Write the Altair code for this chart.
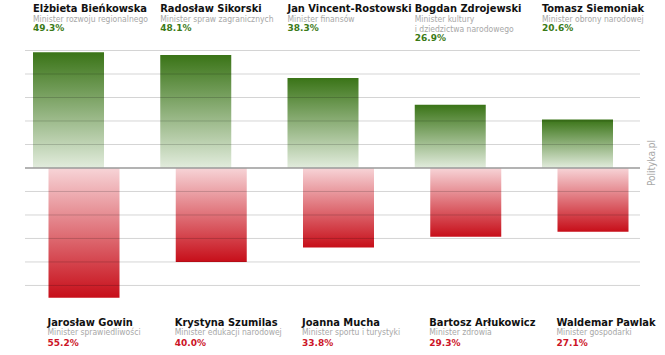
import altair as alt
import pandas as pd

# ---- data ----
top_names = ["Elżbieta Bieńkowska", "Radosław Sikorski", "Jan Vincent-Rostowski",
             "Bogdan Zdrojewski", "Tomasz Siemoniak"]
top_roles = ["Minister rozwoju regionalnego", "Minister spraw zagranicznych",
             "Minister finansów", "Minister kultury\ni dziedzictwa narodowego",
             "Minister obrony narodowej"]
top_values = [49.3, 48.1, 38.3, 26.9, 20.6]

bottom_names = ["Jarosław Gowin", "Krystyna Szumilas", "Joanna Mucha",
                "Bartosz Arłukowicz", "Waldemar Pawlak"]
bottom_roles = ["Minister sprawiedliwości", "Minister edukacji narodowej",
                "Minister sportu i turystyki", "Minister zdrowia", "Minister gospodarki"]
bottom_values = [55.2, 40.0, 33.8, 29.3, 27.1]

grid_values = [-50, -40, -30, -20, -10, 10, 20, 30, 40, 50]
source_label = ["Polityka.pl"]

# ---- tables ----
top_df = pd.DataFrame({"idx": list(range(len(top_names))), "name": top_names,
                       "role": top_roles, "value": top_values})
bot_df = pd.DataFrame({"idx": list(range(len(bottom_names))), "name": bottom_names,
                       "role": bottom_roles, "value": bottom_values})
grid_df = pd.DataFrame({"g": grid_values})
base_df = pd.DataFrame({"g": [0]})
src_df = pd.DataFrame({"t": source_label})

NAME_FONT = "DejaVu Sans Condensed, Liberation Sans Narrow, sans-serif"
ROLE_FONT = "DejaVu Sans Condensed, Liberation Sans Narrow, sans-serif"
PCT_FONT = "DejaVu Sans, sans-serif"
GREEN_TXT = "#3b7a17"
RED_TXT = "#cc1426"
RED_SHIFT = 15.5
NAME_SIZE = 11
ROLE_SIZE = 8.5

xscale = alt.Scale(range=[8, 588], paddingInner=0.442, paddingOuter=0)
yscale = alt.Scale(domain=[-79.6, 71.5], nice=False, zero=False)
X = alt.X("idx:O", scale=xscale, axis=None)
XL = alt.X("idx:O", scale=xscale, axis=None, bandPosition=0)

green_grad = alt.Gradient(
    gradient="linear",
    stops=[alt.GradientStop(color="#3a7417", offset=0),
           alt.GradientStop(color="#e2ecdd", offset=1)],
    x1=0, x2=0, y1=0, y2=1)
red_grad = alt.Gradient(
    gradient="linear",
    stops=[alt.GradientStop(color="#f7d4d7", offset=0),
           alt.GradientStop(color="#c70e19", offset=1)],
    x1=0, x2=0, y1=0, y2=1)

top_base = alt.Chart(top_df)
bot_base = alt.Chart(bot_df).transform_calculate(neg="-datum.value")

green_bars = top_base.mark_bar(color=green_grad).encode(
    x=X, y=alt.Y("value:Q", scale=yscale, axis=None), y2=alt.datum(0))
red_bars = bot_base.mark_bar(color=red_grad, xOffset=RED_SHIFT).encode(
    x=X, y=alt.Y("neg:Q", scale=yscale, axis=None), y2=alt.datum(0))

grid = alt.Chart(grid_df).mark_rule(color="black", opacity=0.17, strokeWidth=1).encode(
    y=alt.Y("g:Q", scale=yscale, axis=None), x=alt.value(0), x2=alt.value(615))
baseline = alt.Chart(base_df).mark_rule(color="#9a9a9a", strokeWidth=1.5).encode(
    y=alt.Y("g:Q", scale=yscale, axis=None), x=alt.value(0), x2=alt.value(615))

# top labels
top_lab = top_base.transform_calculate(
    pct="format(datum.value, '.1f') + '%'",
    nlines="length(split(datum.role, '\\n'))")
t_name = top_lab.mark_text(align="left", font=NAME_FONT, fontWeight="bold",
                           fontSize=NAME_SIZE, color="#111111").encode(
    x=XL, y=alt.value(9), text="name:N")
t_role = top_lab.mark_text(align="left", font=ROLE_FONT, fontSize=ROLE_SIZE,
                           color="#a8a8a8", lineBreak="\n", lineHeight=9.5).encode(
    x=XL, y=alt.value(19.3), text="role:N")
t_pct1 = top_lab.transform_filter("datum.nlines == 1").mark_text(
    align="left", font=PCT_FONT, fontWeight="bold", fontSize=9, color=GREEN_TXT).encode(
    x=XL, y=alt.value(28), text="pct:N")
t_pct2 = top_lab.transform_filter("datum.nlines == 2").mark_text(
    align="left", font=PCT_FONT, fontWeight="bold", fontSize=9, color=GREEN_TXT).encode(
    x=XL, y=alt.value(37.5), text="pct:N")

# bottom labels
bot_lab = alt.Chart(bot_df).transform_calculate(pct="format(datum.value, '.1f') + '%'")
b_name = bot_lab.mark_text(align="left", font=NAME_FONT, fontWeight="bold",
                           fontSize=NAME_SIZE, color="#111111", dx=RED_SHIFT - 1).encode(
    x=XL, y=alt.value(322.5), text="name:N")
b_role = bot_lab.mark_text(align="left", font=ROLE_FONT, fontSize=ROLE_SIZE,
                           color="#a8a8a8", dx=RED_SHIFT - 1).encode(
    x=XL, y=alt.value(332), text="role:N")
b_pct = bot_lab.mark_text(align="left", font=PCT_FONT, fontWeight="bold",
                          fontSize=9, color=RED_TXT, dx=RED_SHIFT - 1).encode(
    x=XL, y=alt.value(342.5), text="pct:N")

src = alt.Chart(src_df).mark_text(angle=270, font=ROLE_FONT, fontSize=10,
                                  color="#a8a8a8", baseline="middle").encode(
    x=alt.value(627), y=alt.value(163), text="t:N")

chart = alt.layer(
    green_bars, red_bars, grid, baseline,
    t_name, t_role, t_pct1, t_pct2, b_name, b_role, b_pct, src
).properties(
    width=615, height=355,
    autosize=alt.AutoSizeParams(type="none"),
    padding={"left": 25, "right": 25, "top": 0, "bottom": 0},
    background="white",
).configure_view(stroke=None)

chart.save("out.html", embed_options={"renderer": "svg", "actions": False})
